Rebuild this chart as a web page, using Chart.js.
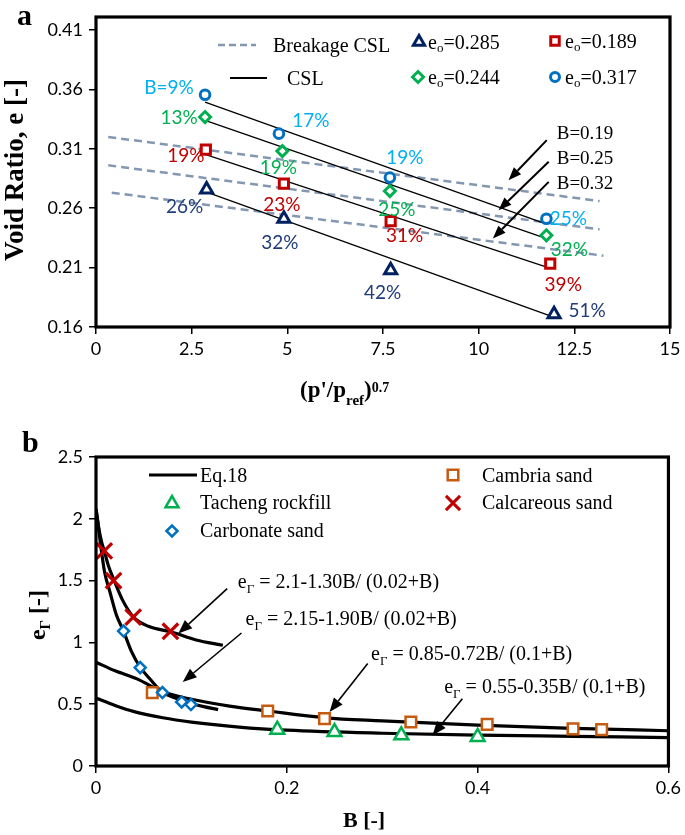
<!DOCTYPE html>
<html><head><meta charset="utf-8">
<script src="https://cdn.jsdelivr.net/npm/chart.js@4/dist/chart.umd.min.js"></script>
<style>
html,body{margin:0;padding:0;background:#fff;}
#wrap{position:relative;width:685px;height:835px;overflow:hidden;}
canvas{position:absolute;left:0;}
</style></head><body>
<div id="wrap">
<canvas id="ca" width="685" height="415" style="top:0"></canvas>
<canvas id="cb" width="685" height="420" style="top:415px"></canvas>
</div>
<script>
// ================= DATA : panel a =================
const X_TICKS_A = [0, 2.5, 5, 7.5, 10, 12.5, 15];
const Y_TICKS_A = [0.16, 0.21, 0.26, 0.31, 0.36, 0.41];
const SERIES_A = ['0.285', '0.189', '0.244', '0.317'];   // e_o values
const x285 = [2.89, 4.91, 7.70, 11.97];
const e285 = [0.2757, 0.2512, 0.2077, 0.1707];
const B285 = ['26%', '32%', '42%', '51%'];
const x189 = [2.87, 4.91, 7.70, 11.87];
const e189 = [0.3093, 0.2807, 0.2492, 0.2134];
const B189 = ['19%', '23%', '31%', '39%'];
const x244 = [2.85, 4.87, 7.68, 11.77];
const e244 = [0.3368, 0.3081, 0.2745, 0.2372];
const B244 = ['13%', '19%', '25%', '32%'];
const x317 = [2.85, 4.78, 7.68, 11.77];
const e317 = [0.3556, 0.3228, 0.2858, 0.2512];
const B317 = ['B=9%', '17%', '19%', '25%'];
// CSL lines (end points)
const cslX285 = [2.89, 11.87], cslE285 = [0.2736, 0.1693];
const cslX189 = [2.85, 11.78], cslE189 = [0.3054, 0.2105];
const cslX244 = [2.85, 11.70], cslE244 = [0.3340, 0.2353];
const cslX317 = [2.85, 11.70], cslE317 = [0.3494, 0.2475];
// Breakage CSL lines
const BRK_LABELS = ['B=0.19', 'B=0.25', 'B=0.32'];
const brkX19 = [0.32, 13.16], brkE19 = [0.320, 0.266];
const brkX25 = [0.32, 13.16], brkE25 = [0.2961, 0.2422];
const brkX32 = [0.41, 13.26], brkE32 = [0.2731, 0.2200];

// ================= DATA : panel b =================
const X_TICKS_B = [0, 0.2, 0.4, 0.6];
const Y_TICKS_B = [0, 0.5, 1, 1.5, 2, 2.5];
const SERIES_B = ['Eq.18', 'Tacheng rockfill', 'Carbonate sand', 'Cambria sand', 'Calcareous sand'];
const tachengB = [0.19, 0.25, 0.32, 0.40];
const tachengE = [0.294, 0.275, 0.248, 0.235];
const carbonateB = [0.0289, 0.0463, 0.0696, 0.0898, 0.0995];
const carbonateE = [1.092, 0.796, 0.594, 0.518, 0.497];
const cambriaB = [0.059, 0.18, 0.2395, 0.33, 0.41, 0.50, 0.53];
const cambriaE = [0.594, 0.445, 0.383, 0.356, 0.337, 0.300, 0.294];
const calcareousB = [0.0087, 0.0184, 0.039, 0.078];
const calcareousE = [1.74, 1.50, 1.205, 1.09];
// Eq.18 curves
const eq1B = [0, 0.003, 0.006, 0.0087, 0.013, 0.0191, 0.028, 0.0393, 0.055, 0.0794, 0.105, 0.133];
const eq1E = [2.08, 1.92, 1.81, 1.74, 1.62, 1.50, 1.34, 1.205, 1.13, 1.084, 1.02, 0.977];
const eq2B = [0, 0.002, 0.005, 0.009, 0.0149, 0.0215, 0.0285, 0.037, 0.0463, 0.057, 0.069, 0.083, 0.0985, 0.113, 0.128];
const eq2E = [2.08, 1.97, 1.78, 1.57, 1.40, 1.22, 1.098, 0.93, 0.80, 0.70, 0.60, 0.55, 0.51, 0.48, 0.456];
const eq3B = [0, 0.02, 0.043, 0.07, 0.1, 0.14, 0.18, 0.24, 0.3, 0.4, 0.5, 0.6];
const eq3E = [0.84, 0.77, 0.705, 0.60, 0.54, 0.485, 0.445, 0.39, 0.365, 0.33, 0.305, 0.285];
const eq4B = [0, 0.02, 0.04, 0.07, 0.1, 0.15, 0.2, 0.3, 0.4, 0.5, 0.6];
const eq4E = [0.55, 0.49, 0.44, 0.39, 0.355, 0.315, 0.29, 0.265, 0.25, 0.24, 0.23];
const EQ_TEXT = [' = 2.1-1.30B/ (0.02+B)', ' = 2.15-1.90B/ (0.02+B)', ' = 0.85-0.72B/ (0.1+B)', ' = 0.55-0.35B/ (0.1+B)'];

// ================= LAYOUT / STYLE =================
const SERIF = '"Liberation Serif", "Times New Roman", serif';
const SANS = 'Lato, "Open Sans", sans-serif';
const COL = {navy:'#002060', navyT:'#1f3b78', red:'#c00000', green:'#00b050', blue:'#0070c0', lblue:'#00b0f0',
             dash:'#8497b0', orange:'#c55a11'};
// percentage label offsets (px from marker)
const OFF285 = [[-22,17],[-4,24],[-8,23],[33,-3]];
const OFF189 = [[-20,6],[-2,21],[14,15],[13,21]];
const OFF244 = [[-26,1],[-4,17],[7,19],[23,15]];
const OFF317 = [[-36,-7],[32,-13],[15,-20],[22,0]];
// arrows in data coords [x1,y1,x2(tip),y2(tip)], text anchor [x,y]
const ARROWS_A = [[11.78,0.3173,10.78,0.2836],[11.83,0.2991,10.52,0.2583],[11.83,0.2822,10.37,0.2345]];
const BTEXT_A = [[12.04,0.323],[12.04,0.3025],[12.04,0.2814]];
const ARROWS_B = [[0.1375,1.435,0.0863,1.071],[0.1525,1.076,0.0909,0.680],[0.2848,0.8285,0.2448,0.437],[0.384,0.545,0.3527,0.248]];
const EQTEXT_B = [[0.1487,1.489],[0.1567,1.193],[0.2883,0.914],[0.365,0.645]];

function pts(xs, ys){ return xs.map((x,i)=>({x:x, y:ys[i]})); }

function marker(ctx, style, x, y, r, color, lw){
  ctx.save(); ctx.strokeStyle=color; ctx.lineWidth=lw; ctx.fillStyle='#fff';
  ctx.beginPath();
  if(style==='circle'){ ctx.arc(x,y,r,0,2*Math.PI); }
  else if(style==='rect'){ const s=r*Math.SQRT1_2; ctx.rect(x-s,y-s,2*s,2*s); }
  else if(style==='rectRot'){ ctx.moveTo(x-r,y); ctx.lineTo(x,y-r); ctx.lineTo(x+r,y); ctx.lineTo(x,y+r); ctx.closePath(); }
  else if(style==='triangle'){ for(let k=0;k<3;k++){ const a=k*2*Math.PI/3; const px=x+Math.sin(a)*r, py=y-Math.cos(a)*r; if(k) ctx.lineTo(px,py); else ctx.moveTo(px,py);} ctx.closePath(); }
  else if(style==='crossRot'){ const d=r*Math.SQRT1_2; ctx.moveTo(x-d,y-d); ctx.lineTo(x+d,y+d); ctx.moveTo(x+d,y-d); ctx.lineTo(x-d,y+d); }
  if(style!=='crossRot') ctx.fill();
  ctx.stroke(); ctx.restore();
}
function rich(ctx, parts, x, yBase, align){
  let w=0;
  parts.forEach(p=>{ ctx.font=p.f; p.w=ctx.measureText(p.t).width; w+=p.w; });
  let cx = align==='center' ? x-w/2 : x;
  ctx.textAlign='left'; ctx.textBaseline='alphabetic';
  parts.forEach(p=>{ ctx.font=p.f; ctx.fillText(p.t, cx, yBase+(p.dy||0)); cx+=p.w; });
  return w;
}
function arrow(ctx, x1,y1,x2,y2, lw, hl, hw){
  const a=Math.atan2(y2-y1,x2-x1);
  const bx=x2-hl*Math.cos(a), by=y2-hl*Math.sin(a);
  ctx.save(); ctx.strokeStyle='#000'; ctx.fillStyle='#000'; ctx.lineWidth=lw;
  ctx.beginPath(); ctx.moveTo(x1,y1); ctx.lineTo(bx,by); ctx.stroke();
  ctx.beginPath(); ctx.moveTo(x2,y2);
  ctx.lineTo(bx+hw/2*Math.sin(a), by-hw/2*Math.cos(a));
  ctx.lineTo(bx-hw/2*Math.sin(a), by+hw/2*Math.cos(a));
  ctx.closePath(); ctx.fill(); ctx.restore();
}
function frame(chart){
  const ctx=chart.ctx, ca=chart.chartArea;
  ctx.save(); ctx.strokeStyle='#000'; ctx.lineWidth=3.2;
  ctx.strokeRect(ca.left, ca.top, ca.right-ca.left, ca.bottom-ca.top); ctx.restore();
}
function axisCfg(min, max, ticksArr, fmt, isX){
  return {
    type:'linear', min:min, max:max,
    afterBuildTicks: s=>{ s.ticks = ticksArr.map(v=>({value:v})); },
    afterFit: s=>{ if(isX) s.height=30; else s.width=96; },
    border:{display:false},
    grid:{display:true, drawOnChartArea:false, drawTicks:true, tickLength:7, color:'#000', lineWidth:1.5},
    ticks:{font:{family:SANS, size:18}, color:'#000', padding: isX?4:6, autoSkip:false, maxRotation:0, callback: v=>fmt(v)}
  };
}
function markerDs(label, xs, ys, style, r, color, lw){
  return {label:label, data:pts(xs,ys), showLine:false, pointStyle:style, pointRadius:r,
    pointBorderColor:color, pointBackgroundColor:'#fff', pointBorderWidth:lw, borderColor:color, backgroundColor:'#fff', order:0};
}
function lineDs(label, xs, ys, color, w, dash, smooth){
  return {label:label, data:pts(xs,ys), showLine:true, pointRadius:0, borderColor:color, borderWidth:w,
    borderDash:dash||[], fill:false, cubicInterpolationMode: smooth?'monotone':'default', order:1};
}

// ================= CHART a =================
const pluginA = {
  id:'decorA',
  afterDraw(chart){
    const ctx=chart.ctx, xs=chart.scales.x, ys=chart.scales.y;
    frame(chart);
    const groups=[[x285,e285,B285,OFF285,COL.navyT],[x189,e189,B189,OFF189,COL.red],[x244,e244,B244,OFF244,COL.green],[x317,e317,B317,OFF317,COL.lblue]];
    ctx.save(); ctx.font='19px '+SANS; ctx.textAlign='center'; ctx.textBaseline='middle';
    groups.forEach(g=>{ ctx.fillStyle=g[4]; g[0].forEach((x,i)=>{
      ctx.fillText(g[2][i], xs.getPixelForValue(x)+g[3][i][0], ys.getPixelForValue(g[1][i])+g[3][i][1]); }); });
    ctx.restore();
    ARROWS_A.forEach(a=>arrow(ctx, xs.getPixelForValue(a[0]), ys.getPixelForValue(a[1]), xs.getPixelForValue(a[2]), ys.getPixelForValue(a[3]), 2, 13, 10));
    ctx.save(); ctx.fillStyle='#000';
    BTEXT_A.forEach((p,i)=>rich(ctx,[{t:BRK_LABELS[i], f:'19px '+SERIF}], xs.getPixelForValue(p[0]), ys.getPixelForValue(p[1])+6));
    ctx.save(); ctx.strokeStyle=COL.dash; ctx.lineWidth=2.5; ctx.setLineDash([7,4]);
    ctx.beginPath(); ctx.moveTo(218,45); ctx.lineTo(256,45); ctx.stroke(); ctx.restore();
    ctx.save(); ctx.strokeStyle='#000'; ctx.lineWidth=1.8;
    ctx.beginPath(); ctx.moveTo(230,78); ctx.lineTo(267,78); ctx.stroke(); ctx.restore();
    rich(ctx,[{t:'Breakage CSL', f:'20px '+SERIF}], 273, 52);
    rich(ctx,[{t:'CSL', f:'20px '+SERIF}], 287, 85);
    const leg=[['triangle',419,42,6.5,COL.navy,428,SERIES_A[0]],['rect',555,41,6,COL.red,565,SERIES_A[1]],
               ['rectRot',418,77,5.5,COL.green,428,SERIES_A[2]],['circle',555,77,4.5,COL.blue,565,SERIES_A[3]]];
    leg.forEach(l=>{ marker(ctx,l[0],l[1],l[2],l[3],l[4],3);
      ctx.fillStyle='#000';
      rich(ctx,[{t:'e',f:'20px '+SERIF},{t:'o',f:'13px '+SERIF,dy:3},{t:'='+l[6],f:'20px '+SERIF}], l[5], l[2]+6.5); });
    ctx.fillStyle='#000';
    rich(ctx,[{t:'a', f:'bold 30px '+SERIF}], 17, 25);
    rich(ctx,[{t:"(p'/p",f:'bold 23px '+SERIF},{t:'ref',f:'bold 15px '+SERIF,dy:8},{t:')',f:'bold 23px '+SERIF},{t:'0.7',f:'bold 14px '+SERIF,dy:-5}], 300, 397);
    ctx.translate(23,170); ctx.rotate(-Math.PI/2);
    rich(ctx,[{t:'Void Ratio, e [-]', f:'bold 27px '+SERIF}], 0, 0, 'center');
    ctx.restore();
  }
};
new Chart(document.getElementById('ca'), {
  type:'scatter',
  data:{datasets:[
    markerDs('eo='+SERIES_A[0], x285, e285, 'triangle', 7, COL.navy, 3),
    markerDs('eo='+SERIES_A[1], x189, e189, 'rect', 6.5, COL.red, 3),
    markerDs('eo='+SERIES_A[2], x244, e244, 'rectRot', 5.5, COL.green, 3),
    markerDs('eo='+SERIES_A[3], x317, e317, 'circle', 4.8, COL.blue, 3),
    lineDs('CSL', cslX285, cslE285, '#000', 1.3),
    lineDs('CSL', cslX189, cslE189, '#000', 1.3),
    lineDs('CSL', cslX244, cslE244, '#000', 1.3),
    lineDs('CSL', cslX317, cslE317, '#000', 1.3),
    lineDs('Breakage CSL', brkX19, brkE19, COL.dash, 2.5, [8,5]),
    lineDs('Breakage CSL', brkX25, brkE25, COL.dash, 2.5, [8,5]),
    lineDs('Breakage CSL', brkX32, brkE32, COL.dash, 2.5, [8,5])
  ]},
  options:{
    responsive:false, animation:false, events:[],
    layout:{padding:{left:0, right:15, top:17, bottom:58}},
    plugins:{legend:{display:false}, tooltip:{enabled:false}},
    scales:{
      x: axisCfg(0, 15, X_TICKS_A, v=>String(v), true),
      y: axisCfg(0.16, 0.421, Y_TICKS_A, v=>v.toFixed(2), false)
    }
  },
  plugins:[pluginA]
});

// ================= CHART b =================
const pluginB = {
  id:'decorB',
  afterDraw(chart){
    const ctx=chart.ctx, xs=chart.scales.x, ys=chart.scales.y;
    frame(chart);
    ARROWS_B.forEach(a=>arrow(ctx, xs.getPixelForValue(a[0]), ys.getPixelForValue(a[1]), xs.getPixelForValue(a[2]), ys.getPixelForValue(a[3]), 1.6, 14, 11));
    ctx.save(); ctx.fillStyle='#000';
    EQTEXT_B.forEach((p,i)=>rich(ctx,[{t:'e',f:'20px '+SERIF},{t:'Γ',f:'13px '+SERIF,dy:5},{t:EQ_TEXT[i],f:'20px '+SERIF}],
      xs.getPixelForValue(p[0]), ys.getPixelForValue(p[1])+6.5));
    ctx.save(); ctx.strokeStyle='#000'; ctx.lineWidth=3.2;
    ctx.beginPath(); ctx.moveTo(149,60); ctx.lineTo(197,60); ctx.stroke(); ctx.restore();
    marker(ctx,'triangle',172,88.5,7.5,COL.green,2.5);
    marker(ctx,'rectRot',172,116,5.5,COL.blue,2.5);
    marker(ctx,'rect',453,60,7.5,COL.orange,2.5);
    marker(ctx,'crossRot',453,88,10,COL.red,3);
    ctx.fillStyle='#000';
    rich(ctx,[{t:SERIES_B[0],f:'20px '+SERIF}],200,66.5);
    rich(ctx,[{t:SERIES_B[1],f:'20px '+SERIF}],200,94);
    rich(ctx,[{t:SERIES_B[2],f:'20px '+SERIF}],200,121.5);
    rich(ctx,[{t:SERIES_B[3],f:'20px '+SERIF}],482,66.5);
    rich(ctx,[{t:SERIES_B[4],f:'20px '+SERIF}],482,94);
    rich(ctx,[{t:'b', f:'bold 30px '+SERIF}], 22, 37);
    rich(ctx,[{t:'B [-]', f:'bold 22px '+SERIF}], 343, 412);
    ctx.translate(45,200); ctx.rotate(-Math.PI/2);
    rich(ctx,[{t:'e',f:'bold 24px '+SERIF},{t:'Γ',f:'bold 15px '+SERIF,dy:5},{t:' [-]',f:'bold 24px '+SERIF}], 0, 0, 'center');
    ctx.restore();
  }
};
new Chart(document.getElementById('cb'), {
  type:'scatter',
  data:{datasets:[
    markerDs(SERIES_B[1], tachengB, tachengE, 'triangle', 8, COL.green, 2.5),
    markerDs(SERIES_B[2], carbonateB, carbonateE, 'rectRot', 5.5, COL.blue, 2.5),
    markerDs(SERIES_B[3], cambriaB, cambriaE, 'rect', 7.5, COL.orange, 2.5),
    markerDs(SERIES_B[4], calcareousB, calcareousE, 'crossRot', 11, COL.red, 3.2),
    lineDs(SERIES_B[0], eq1B, eq1E, '#000', 3.2, null, true),
    lineDs(SERIES_B[0], eq2B, eq2E, '#000', 3.2, null, true),
    lineDs(SERIES_B[0], eq3B, eq3E, '#000', 3.2, null, true),
    lineDs(SERIES_B[0], eq4B, eq4E, '#000', 3.2, null, true)
  ]},
  options:{
    responsive:false, animation:false, events:[],
    layout:{padding:{left:0, right:15, top:42, bottom:39}},
    plugins:{legend:{display:false}, tooltip:{enabled:false}},
    scales:{
      x: axisCfg(0, 0.6, X_TICKS_B, v=>String(v), true),
      y: axisCfg(0, 2.5, Y_TICKS_B, v=>String(v), false)
    }
  },
  plugins:[pluginB]
});
</script>
</body></html>
